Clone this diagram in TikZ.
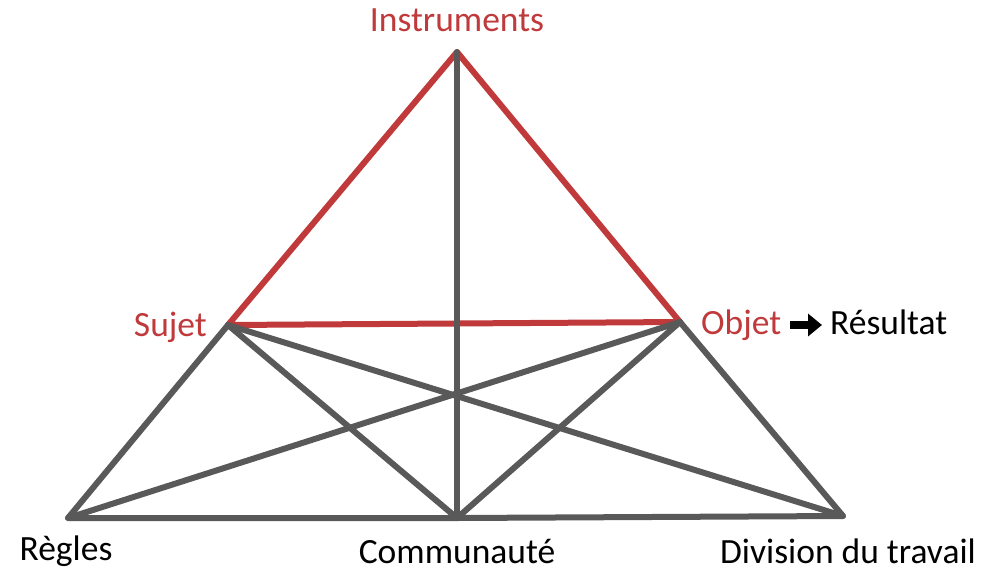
\documentclass[tikz,border=0pt]{standalone}
\usepackage{fontspec}
\setmainfont{Carlito}
\usepackage{tikz}
\usetikzlibrary{positioning,arrows.meta}
\definecolor{actred}{RGB}{192,57,59}
\definecolor{actgray}{RGB}{89,89,89}

\begin{document}
\begin{tikzpicture}[x=1pt, y=-1pt,
		redline/.style={actred, line width=6pt, line cap=round, line join=round},
		grayline/.style={actgray, line width=6pt, line cap=round, line join=round},
		lbl/.style={inner sep=0pt, font=\fontsize{35.5}{40}\selectfont}]
		\useasboundingbox (0,0) rectangle (982,571);

		% vertices of the triangle
		\coordinate (instr) at (457,52);
		\coordinate (sujet) at (228,325);
		\coordinate (objet) at (680,322);
		\coordinate (regles) at (68,518);
		\coordinate (commu) at (457,518);
		\coordinate (divis) at (843,516);

		% labels
		\node [lbl, text=actred] (tinstr) at (457,20) {Instruments};
		\node [lbl, text=actred, anchor=east] (tsujet) at (207,327) {Sujet};
		\node [lbl, text=actred, anchor=base west] (tobjet) at (701,334) {Objet};
		\node [lbl, anchor=base west] (tresult) at (830,334) {Résultat};
		\node [lbl] (tregles) at (66,551) {Règles};
		\node [lbl] (tcommu) at (457,551) {Communauté};
		\node [lbl] (tdivis) at (848,551) {Division du travail};

		% upper triangle
		\draw [redline] (instr) -- (sujet) -- (objet) -- cycle;

		% lower part
		\draw [grayline] (sujet) -- (regles) -- (commu) -- (divis) -- (objet);
		\draw [grayline] (instr) -- (commu);
		\draw [grayline] (sujet) -- (commu);
		\draw [grayline] (sujet) -- (divis);
		\draw [grayline] (objet) -- (regles);
		\draw [grayline] (objet) -- (commu);

		% objet -> resultat
		\draw [line width=8pt, -{Triangle[width=22pt,length=14pt]}, shorten <=9pt, shorten >=8pt] ([yshift=9pt]tobjet.base east) -- ([yshift=9pt]tresult.base west);
	\end{tikzpicture}
\end{document}
